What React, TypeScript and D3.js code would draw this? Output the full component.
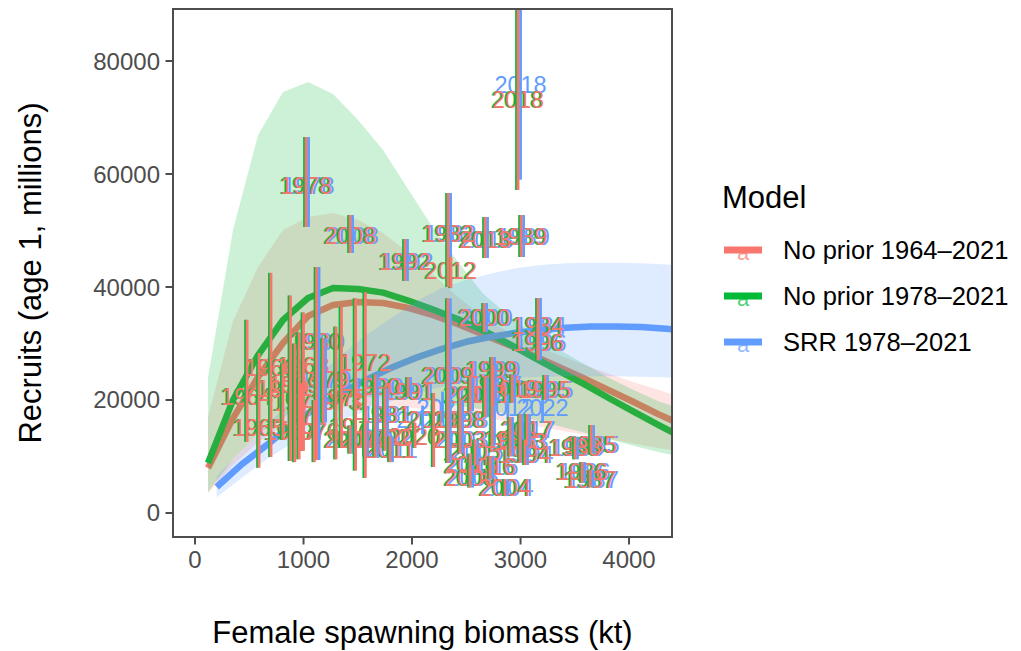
import React from "react";
import * as d3 from "d3";

// ---------- DATA ----------
const modelNames = ["No prior 1964\u20132021", "No prior 1978\u20132021", "SRR 1978\u20132021"];
const modelColors = ["#F8766D", "#00BA38", "#619CFF"];

// curve grids (female spawning biomass, kt)
const gridNoPrior = [120, 350, 581, 811, 1042, 1272, 1503, 1733, 1964, 2194, 2425, 2655, 2886, 3116, 3347, 3577, 3808, 4038, 4269, 4499];
const gridSRR = [200, 430, 660, 890, 1120, 1350, 1580, 1810, 2040, 2270, 2500, 2730, 2960, 3190, 3420, 3650, 3880, 4110, 4340, 4570];

// No prior 1964-2021 (red)
const fitRed = [7960, 16800, 24070, 30090, 34870, 36810, 37340, 37170, 36300, 35000, 33400, 31600, 29800, 27900, 25900, 23900, 21800, 19700, 17500, 15500];
const lowRed = [3500, 8500, 12500, 15500, 17500, 18500, 19000, 19000, 18700, 18200, 17500, 16900, 16200, 15500, 14700, 13900, 13100, 12300, 11500, 10800];
const highRed = [17000, 34000, 43540, 50090, 52390, 53100, 51860, 49560, 46100, 42200, 38200, 34800, 32000, 29800, 28000, 26300, 24700, 23200, 21800, 20400];

// No prior 1978-2021 (green)
const fitGreen = [8850, 20000, 27960, 34160, 38050, 39820, 39650, 39000, 37600, 36000, 34300, 32300, 30000, 27600, 25200, 22900, 20400, 18000, 15600, 13300];
const lowGreen = [3700, 9500, 14000, 17000, 19000, 20000, 20500, 20500, 20200, 19700, 19000, 18300, 17500, 16500, 15400, 14300, 13100, 11900, 10800, 9800];
const highGreen = [24000, 50090, 66900, 74500, 76280, 74160, 69560, 64250, 57300, 50440, 44420, 38800, 35000, 31800, 29000, 26500, 24000, 21800, 19800, 18300];

// SRR 1978-2021 (blue)
const fitBlue = [4600, 8600, 12000, 15600, 18700, 21300, 23600, 25700, 27500, 29000, 30300, 31200, 31900, 32400, 32800, 33000, 33000, 32900, 32600, 32200];
const lowBlue = [2800, 6200, 9500, 12300, 14700, 16500, 18000, 19800, 21200, 22300, 23100, 23600, 23900, 24100, 24200, 24200, 24200, 24100, 24000, 23800];
const highBlue = [6500, 11000, 15500, 20000, 24000, 28000, 31500, 34500, 37500, 39800, 41300, 42400, 43300, 43900, 44200, 44300, 44300, 44200, 44000, 43700];

// annual estimates (spawning biomass, recruits, interval)
const years = [1964, 1965, 1966, 1967, 1968, 1969, 1970, 1971, 1972, 1973, 1974, 1975, 1976, 1977, 1978, 1979, 1980, 1981, 1982, 1983, 1984, 1985, 1986, 1987, 1988, 1989, 1990, 1991, 1992, 1993, 1994, 1995, 1996, 1997, 1998, 1999, 2000, 2001, 2002, 2003, 2004, 2005, 2006, 2007, 2008, 2009, 2010, 2011, 2012, 2013, 2014, 2015, 2016, 2017, 2018, 2019, 2020, 2021];
const ssb = [480, 590, 700, 880, 1000, 920, 810, 960, 1570, 1300, 980, 1350, 1100, 1480, 1023, 1180, 1120, 1750, 2332, 2903, 3161, 3650, 3567, 3641, 3502, 3005, 1659, 1963, 1935, 2995, 3041, 3226, 3161, 2747, 2442, 2737, 2664, 2673, 1751, 2442, 2857, 2581, 2535, 1429, 1429, 2330, 1567, 1797, 2359, 2673, 2535, 2535, 2719, 3060, 2977, 2922, 2028, 2200];
const rec = [20530, 15050, 25660, 14340, 26020, 22650, 22000, 19500, 26550, 19650, 17350, 20350, 14340, 15220, 57880, 23540, 30270, 17350, 49380, 12920, 33100, 12040, 7260, 5840, 11500, 48850, 22300, 21420, 44430, 12570, 10270, 21770, 30090, 22650, 16460, 25310, 34510, 20890, 13270, 12920, 4430, 10800, 6200, 12920, 49030, 24250, 12920, 11150, 42830, 48320, 20890, 8500, 8140, 14690, 73100, 21950, 13450, 16460];
const recLow = [12600, 8000, 9900, 9200, 11000, 9000, 13000, 9500, 6200, 9500, 11000, 11500, 9000, 7500, 50620, 16000, 9380, 15000, 40000, 10000, 27960, 10620, 5310, 4500, 9500, 45310, 10000, 20530, 41060, 9000, 8500, 20000, 27000, 19000, 14000, 12000, 32040, 17000, 11000, 10500, 3000, 8500, 4500, 10500, 46020, 8850, 10000, 9000, 39800, 45130, 18000, 6500, 6000, 12000, 57170, 19500, 11500, 8140];
const recHigh = [34200, 28300, 42500, 38500, 35500, 30000, 26500, 32000, 39100, 33000, 23000, 36500, 20000, 38000, 66550, 31000, 43540, 22000, 56640, 17000, 38050, 15580, 9030, 7500, 13500, 52740, 24500, 24070, 48500, 17500, 13000, 24420, 33500, 26000, 20000, 27600, 37170, 24000, 16000, 15000, 6000, 13000, 8000, 15500, 52740, 38000, 16000, 13500, 45300, 52390, 24000, 10500, 10000, 17500, 100000, 24500, 16000, 21240];

// SRR estimates that differ from the no-prior fits
const srrYears = [2012, 2018, 2020, 2021, 2022];
const srrSsb = [2860, 2977, 2074, 2258, 3180];
const srrRec = [18600, 75750, 16460, 18590, 18590];
const srrLow = [16500, 59000, 14000, 16000, 16000];
const srrHigh = [21000, 100000, 19000, 21500, 21000];

// axis ticks
const xTicks = [0, 1000, 2000, 3000, 4000];
const yTicks = [0, 20000, 40000, 60000, 80000];

type Pt = { year: number; s: number; r: number; lo: number; hi: number };

const basePts: Pt[] = years.map((y, i) => ({ year: y, s: ssb[i], r: rec[i], lo: recLow[i], hi: recHigh[i] }));
const srrPts: Pt[] = (() => {
  const m = new Map<number, Pt>();
  basePts.filter((p) => p.year >= 1978).forEach((p) => m.set(p.year, p));
  srrYears.forEach((y, i) => m.set(y, { year: y, s: srrSsb[i], r: srrRec[i], lo: srrLow[i], hi: srrHigh[i] }));
  return Array.from(m.values());
})();

const curves = [
  { grid: gridNoPrior, fit: fitRed, lo: lowRed, hi: highRed, pts: basePts, dodge: 0 },
  { grid: gridNoPrior, fit: fitGreen, lo: lowGreen, hi: highGreen, pts: basePts, dodge: -1.5 },
  { grid: gridSRR, fit: fitBlue, lo: lowBlue, hi: highBlue, pts: srrPts, dodge: 2.5 },
];

// ---------- LAYOUT ----------
const W = 1021;
const H = 651;
const P = { left: 173, right: 672, top: 9, bottom: 537 };
const FONT = "'Liberation Sans', Arial, Helvetica, sans-serif";

export default function App() {
  const x = d3.scaleLinear().domain([-203, 4396]).range([P.left, P.right]);
  const y = d3.scaleLinear().domain([-4248, 89204]).range([P.bottom, P.top]);

  const lineGen = (grid: number[], vals: number[]) =>
    d3.line<number>().x((_, i) => x(grid[i])).y((v) => y(v)).curve(d3.curveLinear)(vals) || "";
  const areaGen = (grid: number[], lo: number[], hi: number[]) =>
    d3
      .area<number>()
      .x((_, i) => x(grid[i]))
      .y0((_, i) => y(lo[i]))
      .y1((_, i) => y(hi[i]))(grid) || "";

  const order = [2, 1, 0]; // draw blue, green, red (red on top)

  return (
    <svg width={W} height={H} style={{ display: "block", position: "absolute", left: 0, top: 0 }} fontFamily={FONT}>
      <defs>
        <clipPath id="panel">
          <rect x={P.left} y={P.top} width={P.right - P.left} height={P.bottom - P.top} />
        </clipPath>
      </defs>
      <rect x={0} y={0} width={W} height={H} fill="#fff" />
      <g clipPath="url(#panel)">
        {/* fitted curves */}
        {[0, 1, 2].map((m) => (
          <path key={"l" + m} d={lineGen(curves[m].grid, curves[m].fit)} fill="none" stroke={modelColors[m]} strokeWidth={6.5} strokeLinejoin="round" />
        ))}
        {/* ribbons */}
        {[0, 1, 2].map((m) => (
          <path key={"r" + m} d={areaGen(curves[m].grid, curves[m].lo, curves[m].hi)} fill={modelColors[m]} fillOpacity={0.2} stroke="none" />
        ))}
        {/* year labels */}
        {order.map((m) =>
          curves[m].pts.map((p) => (
            <text
              key={"t" + m + "-" + p.year}
              x={x(p.s) + curves[m].dodge}
              y={y(p.r)}
              textAnchor="middle"
              dominantBaseline="central"
              fontSize={23.5}
              fill={modelColors[m]}
            >
              {p.year}
            </text>
          ))
        )}
        {/* interval bars */}
        {order.map((m) =>
          curves[m].pts.map((p) => (
            <line
              key={"b" + m + "-" + p.year}
              x1={x(p.s) + curves[m].dodge}
              x2={x(p.s) + curves[m].dodge}
              y1={y(p.lo)}
              y2={y(p.hi)}
              stroke={modelColors[m]}
              strokeWidth={2.8}
            />
          ))
        )}
      </g>
      {/* panel border */}
      <rect x={P.left} y={P.top} width={P.right - P.left} height={P.bottom - P.top} fill="none" stroke="#4D4D4D" strokeWidth={2} />
      {/* x axis */}
      {xTicks.map((t) => (
        <g key={"xt" + t}>
          <line x1={x(t)} x2={x(t)} y1={P.bottom} y2={P.bottom + 7.5} stroke="#4D4D4D" strokeWidth={2} />
          <text x={x(t)} y={P.bottom + 22} textAnchor="middle" dominantBaseline="central" fontSize={24} fill="#4D4D4D">
            {t}
          </text>
        </g>
      ))}
      {/* y axis */}
      {yTicks.map((t) => (
        <g key={"yt" + t}>
          <line x1={P.left - 7.5} x2={P.left} y1={y(t)} y2={y(t)} stroke="#4D4D4D" strokeWidth={2} />
          <text x={P.left - 13} y={y(t)} textAnchor="end" dominantBaseline="central" fontSize={24} fill="#4D4D4D">
            {t}
          </text>
        </g>
      ))}
      {/* axis titles */}
      <text x={(P.left + P.right) / 2} y={632} textAnchor="middle" dominantBaseline="central" fontSize={31} fill="#000">
        Female spawning biomass (kt)
      </text>
      <text
        transform={`translate(30,${(P.top + P.bottom) / 2}) rotate(-90)`}
        textAnchor="middle"
        dominantBaseline="central"
        fontSize={31}
        fill="#000"
      >
        Recruits (age 1, millions)
      </text>
      {/* legend */}
      <text x={722} y={197} dominantBaseline="central" fontSize={31} fill="#000">
        Model
      </text>
      {modelNames.map((name, i) => {
        const cy = 250 + i * 46;
        return (
          <g key={"lg" + i}>
            <text x={743} y={cy + 2} textAnchor="middle" dominantBaseline="central" fontSize={22} fill={modelColors[i]} fillOpacity={0.7}>
              a
            </text>
            <line x1={724} x2={762} y1={cy} y2={cy} stroke={modelColors[i]} strokeWidth={7} />
            <text x={783} y={cy} dominantBaseline="central" fontSize={25.5} fill="#000">
              {name}
            </text>
          </g>
        );
      })}
    </svg>
  );
}
